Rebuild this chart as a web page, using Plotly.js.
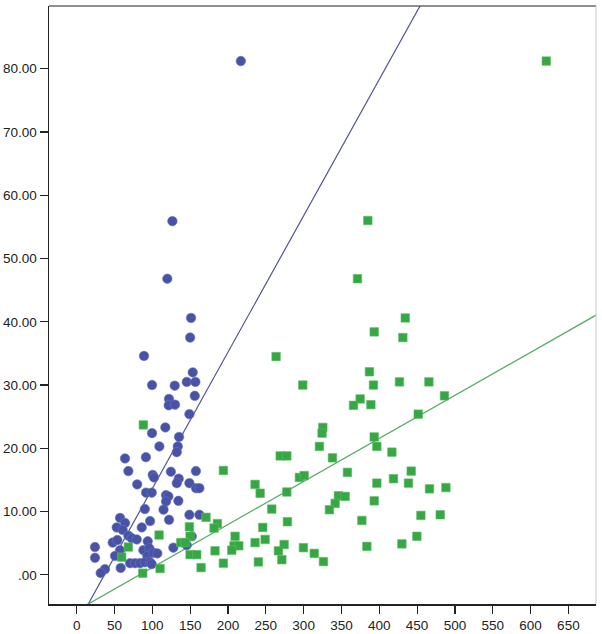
<!DOCTYPE html>
<html>
<head>
<meta charset="utf-8">
<script src="https://cdn.plot.ly/plotly-3.0.1.min.js"></script>
<style>html,body{margin:0;padding:0;background:#fff;}#chart{width:602px;height:634px;}</style>
</head>
<body>
<div id="chart"></div>
<script>
// Blue group (circles)
const blueX = [217, 126.5, 119.8, 151.2, 150, 89, 153.4, 99.6, 129.6, 145.5, 156.9, 156.1, 122, 121.6, 130, 149, 117.2, 99.6, 135.3, 109.3, 133.6, 132.3, 63.9, 91.5, 68.3, 124.5, 157.6, 100.5, 102.2, 134.9, 132.3, 149, 80, 157.8, 162.2, 91.7, 99.2, 118.1, 121.2, 118.1, 134.4, 114.8, 90.1, 149, 162.2, 57.3, 64, 97, 122.1, 52.9, 60.8, 86, 68.3, 72.8, 79.4, 47.6, 53.7, 93.9, 152.1, 24.2, 24.2, 57.3, 50.7, 88.1, 96, 93.4, 101.3, 106.6, 127.8, 145.5, 70.5, 77.2, 83.8, 90.3, 97, 99.2, 58.2, 37.4, 31.7];
const blueY = [81.2, 55.9, 46.8, 40.6, 37.5, 34.6, 32.0, 30.0, 29.9, 30.5, 30.5, 28.3, 27.8, 26.8, 26.9, 25.4, 23.3, 22.4, 21.8, 20.3, 20.3, 19.4, 18.4, 18.6, 16.4, 16.3, 16.4, 15.8, 15.4, 15.2, 14.5, 14.5, 14.3, 13.7, 13.7, 13.0, 13.0, 12.6, 12.4, 11.6, 11.7, 10.3, 10.4, 9.5, 9.5, 9.0, 8.2, 8.5, 8.7, 7.5, 7.1, 7.5, 6.2, 5.8, 5.6, 5.1, 5.5, 5.3, 6.1, 4.4, 2.7, 3.9, 3.0, 3.9, 4.2, 3.0, 3.5, 3.4, 4.3, 4.7, 1.85, 1.85, 1.85, 2.0, 2.0, 1.7, 1.1, 0.9, 0.3];

// Green group (squares)
const greenX = [620.8, 384.9, 371.2, 434.3, 431.2, 393.3, 263.6, 387, 298.9, 392.3, 426.7, 465.6, 486.2, 374.7, 365.9, 388.9, 451.5, 88.1, 325.4, 324.4, 393.3, 320.9, 396.8, 416.7, 269, 277.8, 338.1, 193.9, 357.9, 442.2, 294.4, 300.7, 396.8, 418.8, 438.6, 235.8, 466.4, 488.1, 242.5, 277.8, 346, 354.9, 341.7, 393.3, 334.1, 257.9, 455, 480.6, 171, 377, 278.6, 186, 181.6, 149, 246, 108.9, 149.9, 209.4, 137.6, 143.7, 235.8, 249.1, 449.7, 208, 214.3, 68.3, 274.2, 429.9, 383.6, 205, 182.9, 266.7, 299.7, 314, 326.2, 149.9, 158.7, 59.5, 193.9, 240.2, 271.2, 164.4, 110.2, 87.3];
const greenY = [81.2, 56.0, 46.8, 40.6, 37.5, 38.4, 34.5, 32.1, 30.0, 30.0, 30.5, 30.5, 28.3, 27.8, 26.8, 26.9, 25.4, 23.7, 23.3, 22.4, 21.8, 20.3, 20.3, 19.4, 18.8, 18.8, 18.5, 16.5, 16.2, 16.4, 15.4, 15.7, 14.5, 15.2, 14.5, 14.3, 13.6, 13.8, 12.9, 13.1, 12.5, 12.4, 11.3, 11.7, 10.3, 10.4, 9.4, 9.5, 9.1, 8.6, 8.4, 8.1, 7.4, 7.6, 7.5, 6.3, 6.1, 6.1, 5.1, 5.1, 5.1, 5.6, 6.1, 4.6, 4.6, 4.4, 4.8, 4.9, 4.5, 3.9, 3.8, 3.8, 4.3, 3.4, 2.1, 3.2, 3.2, 2.8, 1.85, 2.05, 2.4, 1.15, 1.0, 0.27];

// Fit lines (intercept, slope)
const blueFit = {a: -7.9, b: 0.2155};
const greenFit = {a: -5.64, b: 0.068};

// Axes
const xRange = [-36.6, 686.5];
const yRange = [-4.6, 89.9];
const xTicks = [0, 50, 100, 150, 200, 250, 300, 350, 400, 450, 500, 550, 600, 650];
const yTicks = [0, 10, 20, 30, 40, 50, 60, 70, 80];
const yTickText = ['.00', '10.00', '20.00', '30.00', '40.00', '50.00', '60.00', '70.00', '80.00'];

const lineX = [xRange[0], xRange[1]];
const fitY = f => lineX.map(x => f.a + f.b * x);

const traces = [
  {x: lineX, y: fitY(blueFit), mode: 'lines', line: {color: '#50558f', width: 1.2}, hoverinfo: 'skip'},
  {x: lineX, y: fitY(greenFit), mode: 'lines', line: {color: '#5dab6a', width: 1.3}, hoverinfo: 'skip'},
  {x: blueX, y: blueY, mode: 'markers', type: 'scatter',
   marker: {symbol: 'circle', size: 9.5, color: '#4853a8', line: {color: '#6a73b8', width: 0.6}}},
  {x: greenX, y: greenY, mode: 'markers', type: 'scatter',
   marker: {symbol: 'square', size: 8.5, color: '#36a843', line: {color: '#5dbb66', width: 0.6}}}
];

const tickFont = {family: 'Liberation Sans, Arial, sans-serif', size: 13.5, color: '#222'};

const layout = {
  width: 602, height: 634,
  margin: {l: 49, r: 6, t: 6, b: 30, pad: 0},
  paper_bgcolor: '#fff', plot_bgcolor: '#fff',
  showlegend: false,
  xaxis: {
    range: xRange, tickmode: 'array', tickvals: xTicks, ticktext: xTicks.map(String),
    ticks: 'outside', ticklen: 8, tickwidth: 1.2, tickcolor: '#222',
    showline: true, linecolor: '#222', linewidth: 1.5, showgrid: false, zeroline: false,
    tickfont: tickFont
  },
  yaxis: {
    range: yRange, tickmode: 'array', tickvals: yTicks, ticktext: yTickText,
    ticks: 'outside', ticklen: 8, tickwidth: 1.2, tickcolor: '#222',
    showline: true, linecolor: '#222', linewidth: 1.5, showgrid: false, zeroline: false,
    tickfont: tickFont
  },
  shapes: [
    {type: 'line', xref: 'paper', yref: 'paper', x0: 0, x1: 1, y0: 1, y1: 1, line: {color: '#222', width: 1.2}},
    {type: 'line', xref: 'paper', yref: 'paper', x0: 1, x1: 1, y0: 0, y1: 1, line: {color: '#c8c8c8', width: 1}}
  ]
};

Plotly.newPlot('chart', traces, layout, {staticPlot: true, displayModeBar: false});
</script>
</body>
</html>
